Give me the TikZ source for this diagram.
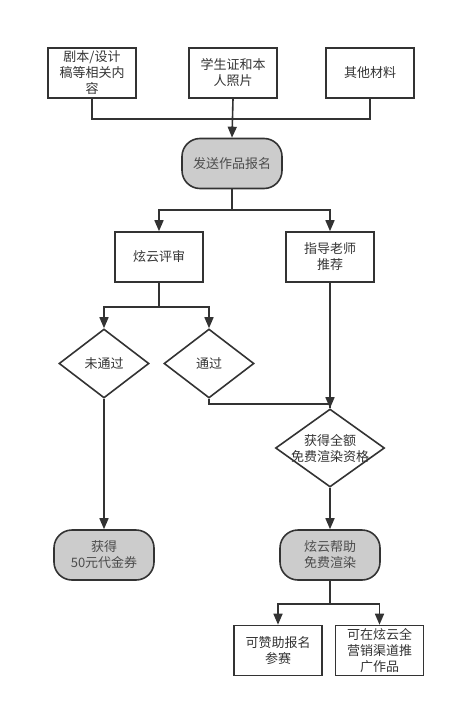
\documentclass[tikz,border=0pt]{standalone}
\usepackage{fontspec}
\newfontfamily\cjk{Noto Sans CJK SC}
\usetikzlibrary{shapes.geometric,arrows.meta}
\definecolor{ink}{HTML}{333333}
\definecolor{pale}{HTML}{CCCCCC}
\begin{document}
\begin{tikzpicture}[x=1pt,y=-1pt,font=\cjk\fontsize{13}{16}\selectfont,
		line width=1.6pt, draw=ink,
		box/.style={draw=ink, align=center, inner sep=0pt, minimum width=88pt, minimum height=50pt, text=ink},
		term/.style={draw=ink, fill=pale, rounded corners=18pt, align=center, inner sep=0pt, minimum width=100pt, minimum height=50pt, text=black!70},
		choice/.style={draw=ink, diamond, align=center, inner sep=0pt, minimum width=90pt, minimum height=69pt, text=ink},
		arr/.style={-{Triangle[length=11pt,width=9pt]}}]
		\useasboundingbox (0,0) rectangle (456,708);

		\node[box] (jb) at (92,73) {剧本/设计\\稿等相关内\\容};
		\node[box] (xsz) at (233,73) {学生证和本\\人照片};
		\node[box] (qt) at (370,73) {其他材料};
		\node[term] (bm) at (232,163.5) {发送作品报名};

		\node[box] (ps) at (159,257) {炫云评审};
		\node[box] (tj) at (330,257) {指导老师\\推荐};

		\node[choice] (wtg) at (104,363.5) {未通过};
		\node[choice] (tg) at (209,363.5) {通过};
		\node[choice, minimum width=109pt, minimum height=78pt, inner sep=-10pt] (zg) at (330,448) {获得全额\\免费渲染资格};

		\node[term] (djq) at (104,555) {获得\\50元代金券};
		\node[term] (xr) at (330,555) {炫云帮助\\免费渲染};

		\node[box] (zz) at (278,650.5) {可赞助报名\\参赛};
		\node[box] (yx) at (379.5,650.5) {可在炫云全\\营销渠道推\\广作品};

		\draw (jb.south) -- ++(0,20) -| (qt.south);
		\draw[arr] (xsz.south) -- (bm.north);

		\draw (bm.south) -- ++(0,21) coordinate (s1);
		\draw[arr] (s1) -| (ps.north);
		\draw[arr] (s1) -| (tj.north);

		\draw (ps.south) -- ++(0,24) coordinate (s2);
		\draw[arr] (s2) -| (wtg.north);
		\draw[arr] (s2) -| (tg.north);

		\draw (tg.south) -- ++(0,5) -| (zg.north);
		\draw[arr] (tj.south) -- (zg.north);
		\draw[arr] (wtg.south) -- (djq.north);
		\draw[arr] (zg.south) -- (xr.north);

		\draw (xr.south) -- ++(0,23) coordinate (s3);
		\draw[arr] (s3) -| (zz.north);
		\draw[arr] (s3) -| (yx.north);
	\end{tikzpicture}
\end{document}
